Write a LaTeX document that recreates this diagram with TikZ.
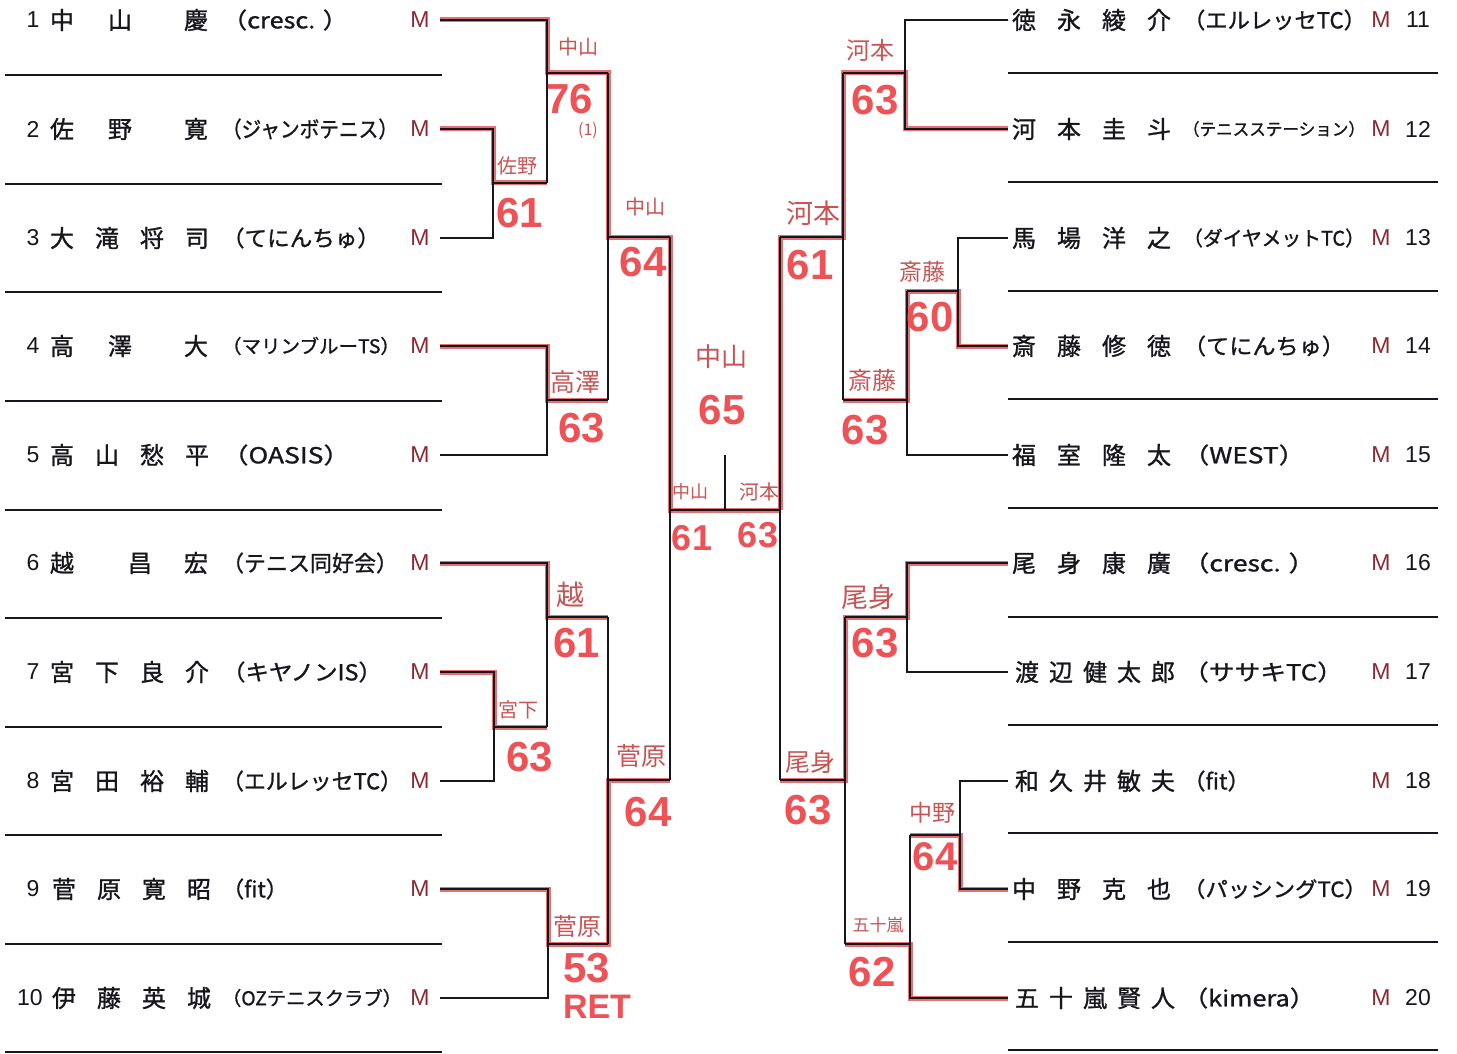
\documentclass[tikz,border=0pt]{standalone}
\usepackage{fontspec}
\usepackage{graphicx}
\setmainfont{Liberation Sans}
\newfontfamily\jp{Noto Sans CJK JP}
\newfontfamily\jpb{Noto Sans CJK JP}[FakeBold=1.1]
\newfontfamily\lat{Liberation Sans}
\definecolor{hlred}{RGB}{228,112,112}
\definecolor{sred}{RGB}{236,82,86}
\definecolor{hred}{RGB}{200,84,84}
\definecolor{mred}{RGB}{140,40,50}
\definecolor{lk}{RGB}{22,22,28}
\newcommand\clb[2]{\resizebox{#1pt}{\height}{#2}}
\tikzset{
  every node/.style={inner sep=0pt, outer sep=0pt},
  nm/.style={anchor=west, font=\jpb\fontsize{24}{24}\selectfont, text=lk},
  club/.style={anchor=west, font=\jpb\fontsize{#1}{#1}\selectfont, text=lk},
  club/.default=22,
  num/.style={font=\lat\fontsize{23}{23}\selectfont, text=lk},
  mk/.style={font=\lat\fontsize{23}{23}\selectfont, text=mred},
  hand/.style={font=\jp\fontsize{#1}{#1}\selectfont, text=hred},
  hand/.default=20,
  score/.style={font=\lat\bfseries\fontsize{#1}{#1}\selectfont, text=sred},
  score/.default=42,
  bl/.style={draw=lk, line width=1.8pt},
  hl/.style={draw=hlred, line width=5pt},
  sep/.style={draw=lk, line width=1.8pt},
}
\begin{document}
\begin{tikzpicture}[x=1pt,y=-1pt]
\useasboundingbox (0,0) rectangle (1457,1054);
\fill[white] (0,0) rectangle (1457,1054);

% entry points
\foreach \k/\y in {1/20,2/129,3/238,4/346,5/455,6/563,7/672,8/781,9/889,10/998}
  \coordinate (L\k) at (440,\y);
\foreach \k/\y in {11/20,12/129,13/238,14/346,15/455,16/563,17/672,18/781,19/889,20/998}
  \coordinate (R\k) at (1008,\y);

% ---------- red highlight (winners) ----------
\draw[hl] (L1) -- (547,20) -- (547,73) -- (608,73) -- (608,237) -- (670,237) -- (670,510) -- (780,510);
\draw[hl] (L2) -- (493,129) -- (493,183) -- (547,183);
\draw[hl] (L4) -- (547,346) -- (547,400) -- (608,400);
\draw[hl] (L6) -- (547,563) -- (547,617) -- (608,617);
\draw[hl] (L7) -- (494,672) -- (494,727) -- (547,727);
\draw[hl] (L9) -- (548,889) -- (548,944) -- (608,944) -- (608,780) -- (670,780);
\draw[hl] (R12) -- (905,129) -- (905,73) -- (843,73) -- (843,237) -- (780,237) -- (780,510);
\draw[hl] (R14) -- (958,346) -- (958,291) -- (907,291) -- (907,400) -- (843,400);
\draw[hl] (R16) -- (907,563) -- (907,617) -- (845,617) -- (845,780) -- (780,780);
\draw[hl] (R19) -- (960,889) -- (960,835) -- (910,835);
\draw[hl] (R20) -- (910,998) -- (910,944) -- (845,944);

% ---------- black bracket ----------
\draw[bl] (L2) -- (493,129) -- (493,238) -- (L3);
\draw[bl] (493,183) -- (547,183);
\draw[bl] (L1) -- (547,20) -- (547,183);
\draw[bl] (547,73) -- (608,73);
\draw[bl] (L4) -- (547,346) -- (547,455) -- (L5);
\draw[bl] (547,400) -- (608,400);
\draw[bl] (608,73) -- (608,400);
\draw[bl] (608,237) -- (670,237);
\draw[bl] (L7) -- (494,672) -- (494,781) -- (L8);
\draw[bl] (494,727) -- (547,727);
\draw[bl] (L6) -- (547,563) -- (547,727);
\draw[bl] (547,617) -- (608,617);
\draw[bl] (L9) -- (548,889) -- (548,998) -- (L10);
\draw[bl] (548,944) -- (608,944);
\draw[bl] (608,617) -- (608,944);
\draw[bl] (608,780) -- (670,780);
\draw[bl] (670,237) -- (670,780);
\draw[bl] (670,510) -- (780,510);
\draw[bl] (725,455) -- (725,510);
\draw[bl] (R11) -- (905,20) -- (905,129) -- (R12);
\draw[bl] (905,73) -- (843,73);
\draw[bl] (R13) -- (958,238) -- (958,346) -- (R14);
\draw[bl] (958,291) -- (907,291);
\draw[bl] (907,291) -- (907,455) -- (R15);
\draw[bl] (907,400) -- (843,400);
\draw[bl] (843,73) -- (843,400);
\draw[bl] (843,237) -- (780,237);
\draw[bl] (R16) -- (907,563) -- (907,672) -- (R17);
\draw[bl] (907,617) -- (845,617);
\draw[bl] (R18) -- (960,781) -- (960,889) -- (R19);
\draw[bl] (960,835) -- (910,835);
\draw[bl] (910,835) -- (910,998) -- (R20);
\draw[bl] (910,944) -- (845,944);
\draw[bl] (845,617) -- (845,944);
\draw[bl] (845,780) -- (780,780);
\draw[bl] (780,237) -- (780,780);

% ---------- row separators ----------
\foreach \y in {75,184,292,401,510,618,727,835,944,1052}
  \draw[sep] (5,\y) -- (442,\y);
\foreach \y in {73,182,291,399,508,617,725,833,942,1050}
  \draw[sep] (1008,\y) -- (1438,\y);

% ---------- left players ----------
\node[num] (n1) at (33,20) {1};
\node[num] (n2) at (33,129) {2};
\node[num] (n3) at (33,238) {3};
\node[num] (n4) at (33,346) {4};
\node[num] (n5) at (33,455) {5};
\node[num] (n6) at (33,563) {6};
\node[num] (n7) at (33,672) {7};
\node[num] (n8) at (33,781) {8};
\node[num] (n9) at (33,889) {9};
\node[num] (n10) at (30,998) {10};

\node[nm] (p1) at (50,20) {中\hspace{34pt}山\hspace{52pt}慶};
\node[nm] (p2) at (50,129) {佐\hspace{34pt}野\hspace{52pt}寛};
\node[nm] (p3) at (50,238) {大\hspace{21pt}滝\hspace{21pt}将\hspace{21pt}司};
\node[nm] (p4) at (50,346) {高\hspace{34pt}澤\hspace{52pt}大};
\node[nm] (p5) at (50,455) {高\hspace{21pt}山\hspace{21pt}愁\hspace{21pt}平};
\node[nm] (p6) at (50,563) {越\hspace{54pt}昌\hspace{32pt}宏};
\node[nm] (p7) at (50,672) {宮\hspace{21pt}下\hspace{21pt}良\hspace{21pt}介};
\node[nm] (p8) at (50,781) {宮\hspace{21pt}田\hspace{21pt}裕\hspace{21pt}輔};
\node[nm] (p9) at (52,889) {菅\hspace{21pt}原\hspace{21pt}寛\hspace{21pt}昭};
\node[nm] (p10) at (52,998) {伊\hspace{21pt}藤\hspace{21pt}英\hspace{21pt}城};

\node[club] (c1) at (222,20) {\clb{126}{（cresc. ）}};
\node[club] (c2) at (222,129) {\clb{176}{（ジャンボテニス）}};
\node[club] (c3) at (222,238) {\clb{158}{（てにんちゅ）}};
\node[club=19] (c4) at (222,346) {\clb{178}{（マリンブルーTS）}};
\node[club] (c5) at (222,455) {\clb{128}{（OASIS）}};
\node[club] (c6) at (222,563) {\clb{176}{（テニス同好会）}};
\node[club] (c7) at (222,672) {\clb{160}{（キヤノンIS）}};
\node[club] (c8) at (222,781) {\clb{180}{（エルレッセTC）}};
\node[club] (c9) at (222,889) {\clb{66}{（fit）}};
\node[club=19] (c10) at (222,998) {\clb{180}{（OZテニスクラブ）}};

\foreach \k/\y in {1/20,2/129,3/238,4/346,5/455,6/563,7/672,8/781,9/889,10/998}
  \node[mk] (m\k) at (420,\y) {M};

% ---------- right players ----------
\node[nm] (p11) at (1012,20) {徳\hspace{21pt}永\hspace{21pt}綾\hspace{21pt}介};
\node[nm] (p12) at (1012,129) {河\hspace{21pt}本\hspace{21pt}圭\hspace{21pt}斗};
\node[nm] (p13) at (1012,238) {馬\hspace{21pt}場\hspace{21pt}洋\hspace{21pt}之};
\node[nm] (p14) at (1012,346) {斎\hspace{21pt}藤\hspace{21pt}修\hspace{21pt}徳};
\node[nm] (p15) at (1012,455) {福\hspace{21pt}室\hspace{21pt}隆\hspace{21pt}太};
\node[nm] (p16) at (1012,563) {尾\hspace{21pt}身\hspace{21pt}康\hspace{21pt}廣};
\node[nm] (p17) at (1015,672) {渡\hspace{10pt}辺\hspace{10pt}健\hspace{10pt}太\hspace{10pt}郎};
\node[nm] (p18) at (1015,781) {和\hspace{10pt}久\hspace{10pt}井\hspace{10pt}敏\hspace{10pt}夫};
\node[nm] (p19) at (1012,889) {中\hspace{21pt}野\hspace{21pt}克\hspace{21pt}也};
\node[nm] (p20) at (1015,998) {五\hspace{10pt}十\hspace{10pt}嵐\hspace{10pt}賢\hspace{10pt}人};

\node[club] (c11) at (1183,20) {\clb{183}{（エルレッセTC）}};
\node[club=17] (c12) at (1183,129) {\clb{182}{（テニスステーション）}};
\node[club=20] (c13) at (1183,238) {\clb{182}{（ダイヤメットTC）}};
\node[club] (c14) at (1183,346) {\clb{162}{（てにんちゅ）}};
\node[club] (c15) at (1183,455) {\clb{122}{（WEST）}};
\node[club] (c16) at (1183,563) {\clb{132}{（cresc. ）}};
\node[club] (c17) at (1183,672) {\clb{160}{（ササキTC）}};
\node[club] (c18) at (1183,781) {\clb{67}{（fit）}};
\node[club=21] (c19) at (1183,889) {\clb{184}{（パッシングTC）}};
\node[club] (c20) at (1183,998) {\clb{132}{（kimera）}};

\foreach \k/\y in {11/20,12/129,13/238,14/346,15/455,16/563,17/672,18/781,19/889,20/998}{
  \node[mk] (m\k) at (1381,\y) {M};
  \node[num] (n\k) at (1418,\y) {\k};
}

% ---------- handwritten results ----------
\node[hand] (w1) at (578,47) {中山};
\node[score] (s1) at (570,99) {76};
\node[hand=16] (s1b) at (588,131) {(1)};
\node[hand] (w2) at (517,166) {佐野};
\node[score] (s2) at (520,213) {61};
\node[hand] (w3) at (645,207) {中山};
\node[score] (s3) at (643,262) {64};
\node[hand=25] (w4) at (575,382) {高澤};
\node[score] (s4) at (582,428) {63};
\node[hand=26] (w5) at (721,357) {中山};
\node[score] (s5) at (722,410) {65};
\node[hand=18] (w6) at (690,492) {中山};
\node[hand=20] (w7) at (759,492) {河本};
\node[score=36] (s6) at (692,538) {61};
\node[score=36] (s7) at (758,535) {63};
\node[hand=28] (w8) at (570,595) {越};
\node[score] (s8) at (577,643) {61};
\node[hand] (w9) at (518,710) {宮下};
\node[score] (s9) at (530,757) {63};
\node[hand=25] (w10) at (641,756) {菅原};
\node[score] (s10) at (648,812) {64};
\node[hand=24] (w11) at (577,926) {菅原};
\node[score] (s11) at (587,968) {53};
\node[score=34] (s12) at (597,1007) {RET};

\node[hand=24] (w12) at (870,50) {河本};
\node[score] (s13) at (875,100) {63};
\node[hand=27] (w13) at (813,213) {河本};
\node[score] (s14) at (810,265) {61};
\node[hand=23] (w14) at (922,272) {斎藤};
\node[score] (s15) at (930,317) {60};
\node[hand=24] (w15) at (872,380) {斎藤};
\node[score] (s16) at (865,430) {63};
\node[hand=27] (w16) at (868,597) {尾身};
\node[score] (s17) at (875,643) {63};
\node[hand=25] (w17) at (810,762) {尾身};
\node[score] (s18) at (808,810) {63};
\node[hand=23] (w18) at (932,813) {中野};
\node[score=40] (s19) at (935,857) {64};
\node[hand=17] (w19) at (878,925) {五十嵐};
\node[score] (s20) at (872,972) {62};
\end{tikzpicture}
\end{document}
